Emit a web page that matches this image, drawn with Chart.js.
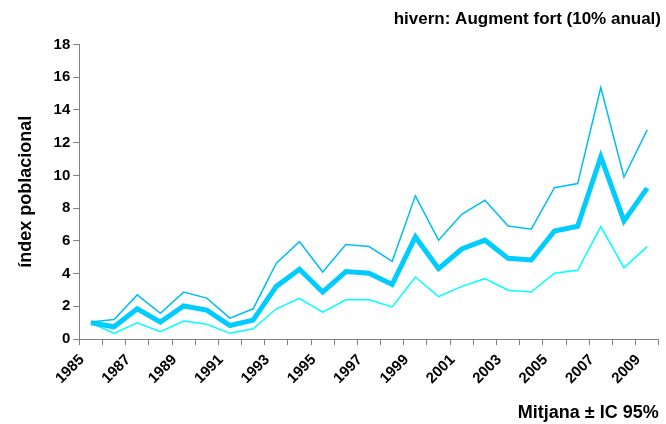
<!DOCTYPE html>
<html lang="ca">
<head>
  <meta charset="UTF-8">
  <title>hivern: Augment fort</title>
  <script src="https://cdn.jsdelivr.net/npm/chart.js@4.4.0/dist/chart.umd.min.js"></script>
  <style>
    html, body { margin: 0; padding: 0; background: #ffffff; }
    #wrap { width: 666px; height: 424px; position: relative; }
  </style>
</head>
<body>
  <div id="wrap"><canvas id="chart"></canvas></div>

  <script>
    const years = ['1985','1986','1987','1988','1989','1990','1991','1992','1993','1994','1995','1996','1997',
                   '1998','1999','2000','2001','2002','2003','2004','2005','2006','2007','2008','2009'];
    const upperCI = [1.05, 1.2, 2.7, 1.57, 2.87, 2.5, 1.28, 1.85, 4.63, 5.95, 4.1, 5.77, 5.65,
                     4.75, 8.75, 6.04, 7.62, 8.48, 6.91, 6.71, 9.25, 9.5, 15.37, 9.9, 12.78];
    const mean    = [1.0, 0.75, 1.85, 1.04, 2.02, 1.77, 0.83, 1.16, 3.22, 4.26, 2.87, 4.12, 4.02,
                     3.34, 6.24, 4.3, 5.5, 6.04, 4.93, 4.83, 6.6, 6.89, 11.13, 7.22, 9.22];
    const lowerCI = [1.0, 0.35, 1.0, 0.45, 1.1, 0.9, 0.35, 0.63, 1.85, 2.49, 1.65, 2.4, 2.4,
                     1.96, 3.79, 2.59, 3.22, 3.69, 2.98, 2.87, 4.02, 4.2, 6.87, 4.36, 5.65];

    const font = 'Arial, "Liberation Sans", sans-serif';

    new Chart(document.getElementById('chart'), {
      type: 'line',
      data: {
        labels: years,
        datasets: [
          { label: 'IC sup', data: upperCI, borderColor: '#00bff3', borderWidth: 1.5, pointRadius: 0, tension: 0 },
          { label: 'Mitjana', data: mean, borderColor: '#00ccff', borderWidth: 5, pointRadius: 0, tension: 0 },
          { label: 'IC inf', data: lowerCI, borderColor: '#00ffff', borderWidth: 1.5, pointRadius: 0, tension: 0 }
        ]
      },
      options: {
        responsive: true,
        maintainAspectRatio: false,
        animation: false,
        layout: { padding: { left: 15, right: 5, top: 9, bottom: 0 } },
        plugins: {
          legend: { display: false },
          tooltip: { enabled: false },
          title: {
            display: true,
            text: 'hivern: Augment fort (10% anual)',
            align: 'end',
            color: '#000',
            font: { family: font, size: 17, weight: 'bold' },
            padding: { top: 0, bottom: 15 }
          }
        },
        scales: {
          x: {
            offset: true,
            border: { color: '#808080', width: 1 },
            grid: { offset: true, drawOnChartArea: false, drawTicks: true, tickLength: 6, color: '#808080' },
            ticks: {
              autoSkip: false,
              maxRotation: 45,
              minRotation: 45,
              color: '#000',
              padding: 6,
              labelOffset: -9,
              font: { family: font, size: 15, weight: 'bold' },
              callback: function (v, i) { return i % 2 === 0 ? years[i] : ''; }
            },
            title: {
              display: true,
              text: 'Mitjana ± IC 95%',
              align: 'end',
              color: '#000',
              font: { family: font, size: 18, weight: 'bold' },
              padding: { top: 9, bottom: 0 }
            }
          },
          y: {
            min: 0,
            max: 18,
            border: { color: '#808080', width: 1 },
            grid: { drawOnChartArea: false, drawTicks: true, tickLength: 6, color: '#808080' },
            ticks: {
              stepSize: 2,
              color: '#000',
              padding: 3,
              font: { family: font, size: 15, weight: 'bold' }
            },
            title: {
              display: true,
              text: 'índex poblacional',
              color: '#000',
              font: { family: font, size: 18, weight: 'bold' },
              padding: { top: 0, bottom: 14 }
            }
          }
        }
      }
    });
  </script>
</body>
</html>
